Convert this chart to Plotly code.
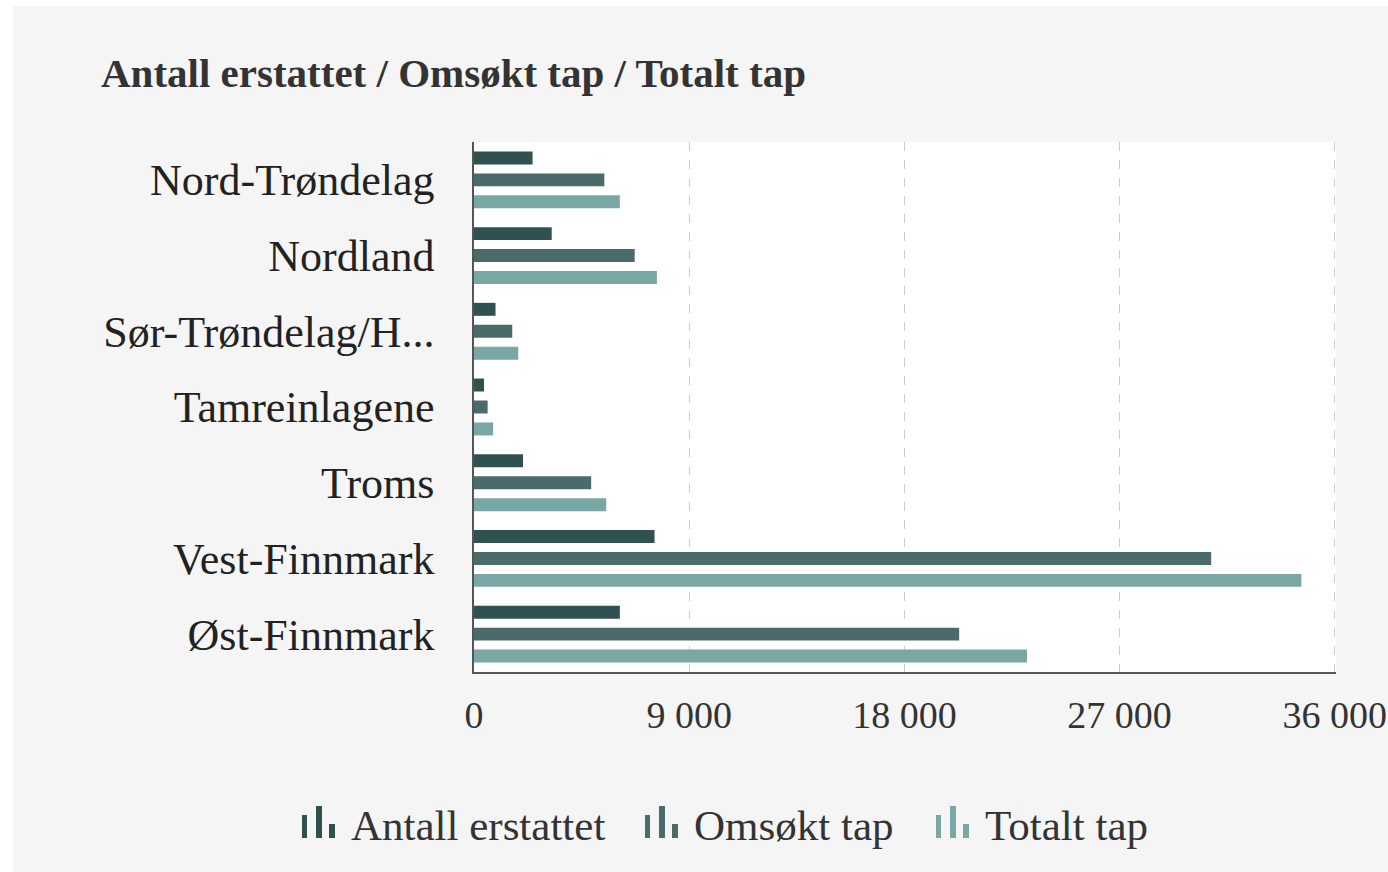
import plotly.graph_objects as go

# ---- data ----
regions = ["Nord-Trøndelag", "Nordland", "Sør-Trøndelag/H...", "Tamreinlagene",
           "Troms", "Vest-Finnmark", "Øst-Finnmark"]
antall_erstattet = [2450, 3250, 900, 420, 2050, 7550, 6100]
omsokt_tap = [5450, 6720, 1600, 570, 4900, 30830, 20290]
totalt_tap = [6100, 7650, 1850, 800, 5530, 34600, 23130]
series_names = ["Antall erstattet", "Omsøkt tap", "Totalt tap"]
series_colors = ["#2f5250", "#4b6b6a", "#79a7a5"]
tick_vals = [0, 9000, 18000, 27000, 36000]
tick_text = ["0", "9 000", "18 000", "27 000", "36 000"]
x_max = 36050

W, H = 1388, 872
ML, MT, MB = 474, 142, 200
PW = round(861 * x_max / 36000)
MR = W - ML - PW
PH = H - MT - MB
FONT = "Liberation Serif"


def px(x):
    return (x - ML) / PW


def py(y):
    return (H - MB - y) / PH


fig = go.Figure()
for name, vals, col in zip(series_names, [antall_erstattet, omsokt_tap, totalt_tap], series_colors):
    fig.add_trace(go.Bar(
        y=regions, x=vals, name=name, orientation="h",
        marker=dict(color=col, line=dict(width=0)),
        showlegend=False,
    ))

shapes = [
    # white page border strips (left and top)
    dict(type="rect", xref="paper", yref="paper", x0=px(0), x1=px(13), y0=py(H), y1=py(0),
         fillcolor="white", line=dict(width=0), layer="above"),
    dict(type="rect", xref="paper", yref="paper", x0=px(0), x1=px(W), y0=py(6), y1=py(0),
         fillcolor="white", line=dict(width=0), layer="above"),
]

annotations = []
# custom legend with bar-chart icons
legend_x = [302, 645, 936]
for lx, name, col in zip(legend_x, series_names, series_colors):
    bars = [(0, 5, 815), (14, 20, 806), (27, 33, 824)]
    for b0, b1, top in bars:
        shapes.append(dict(type="rect", xref="paper", yref="paper",
                           x0=px(lx + b0), x1=px(lx + b1), y0=py(838), y1=py(top),
                           fillcolor=col, line=dict(width=0), layer="above"))
    annotations.append(dict(text=name, xref="paper", yref="paper",
                            x=px(lx + 47), y=py(825), xanchor="left", yanchor="middle",
                            showarrow=False, font=dict(family=FONT, size=43, color="#333333")))

fig.update_layout(
    width=W, height=H,
    margin=dict(l=ML, r=MR, t=MT, b=MB, pad=0, autoexpand=False),
    paper_bgcolor="#f5f5f5",
    plot_bgcolor="white",
    barmode="group",
    bargap=0.13,
    bargroupgap=0.41,
    title=dict(text="<b>Antall erstattet / Omsøkt tap / Totalt tap</b>",
               xref="container", yref="container",
               x=101 / W, y=1 - 73 / H, xanchor="left", yanchor="middle",
               font=dict(family=FONT, size=41, color="#333333")),
    xaxis=dict(range=[0, x_max], tickvals=tick_vals, ticktext=tick_text,
               showgrid=True, gridcolor="#cccccc", griddash="dash", gridwidth=1,
               zeroline=False, showline=True, linecolor="#555555", linewidth=1.5,
               ticks="", ticklabelstandoff=9, ticklabeloverflow="allow", automargin=False,
               tickfont=dict(family=FONT, size=38, color="#333333")),
    yaxis=dict(autorange="reversed", showgrid=False, zeroline=False,
               showline=True, linecolor="#555555", linewidth=1.5, automargin=False,
               ticks="", ticklabelstandoff=29,
               tickfont=dict(family=FONT, size=44, color="#222222")),
    shapes=shapes,
    annotations=annotations,
    showlegend=False,
)

fig.write_html("out.html", config={"displayModeBar": False},
               post_script="document.body.style.margin='0';document.body.style.overflow='hidden';")
